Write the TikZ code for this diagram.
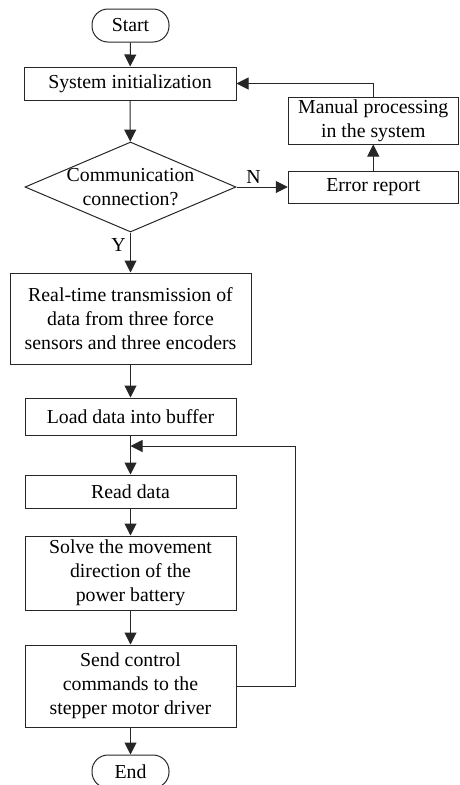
\documentclass[tikz,border=0pt]{standalone}
\usepackage{fontspec}
\setmainfont{Liberation Serif}
\usetikzlibrary{shapes.geometric,arrows.meta}

\tikzset{
    box/.style={draw, rectangle, align=center, inner sep=0pt},
    term/.style={draw, rectangle, rounded corners=16pt, minimum width=77pt, minimum height=33pt, inner sep=0pt},
    decide/.style={draw, diamond, align=center, aspect=2.34, inner sep=-6pt, minimum width=211pt, minimum height=90pt},
}

\begin{document}
\begin{tikzpicture}[x=1pt, y=-1pt, line width=1pt, draw=black!85,
    >={Triangle[length=12pt,width=12pt]},
    font=\fontsize{19.8}{24}\selectfont]
    \useasboundingbox (0,0) rectangle (459,785);
    % main column
    \node[term] (start) at (130.5,25.5) {Start};
    \node[box, minimum width=212pt, minimum height=33pt] (init) at (130,83.5) {System initialization};
    \node[decide] (comm) at (130.5,187) {Communication\\connection?};
    \node[box, minimum width=241pt, minimum height=91pt] (rt) at (130.5,318.5)
        {Real-time transmission of\\data from three force\\sensors and three encoders};
    \node[box, minimum width=211pt, minimum height=37pt] (load) at (130.5,416.5) {Load data into buffer};
    \node[box, minimum width=211pt, minimum height=33pt] (read) at (130.5,491.5) {Read data};
    \node[box, minimum width=211pt, minimum height=74pt] (solve) at (130.5,573)
        {Solve the movement\\direction of the\\power battery};
    \node[box, minimum width=211pt, minimum height=82pt] (send) at (130.5,686)
        {Send control\\commands to the\\stepper motor driver};
    \node[term] (end) at (130.5,771.5) {End};
    % error branch
    \node[box, minimum width=170pt, minimum height=32pt] (err) at (373.25,187) {Error report};
    \node[box, minimum width=170pt, minimum height=47pt] (manual) at (373.25,120.5)
        {Manual processing\\in the system};
    % arrows
    \draw[->] (start) -- (init);
    \draw[->] (init) -- (comm);
    \draw[->] (comm) -- node[pos=0.32, left=1pt] (ylab) {Y} (rt);
    \draw[->] (rt) -- (load);
    \draw[->] (load) -- (read);
    \draw[->] (read) -- (solve);
    \draw[->] (solve) -- (send);
    \draw[->] (send) -- (end);
    \draw[->] (comm) -- node[pos=0.33, above=0pt] (nlab) {N} (err);
    \draw[->] (err) -- (manual);
    \draw[->] (manual.north) |- (init.east);
    % loop back
    \coordinate (loopin) at (130.5,446);
    \coordinate (loopr) at (295,686);
    \draw[->] (send.east) -- (loopr) |- (loopin);
\end{tikzpicture}
\end{document}
